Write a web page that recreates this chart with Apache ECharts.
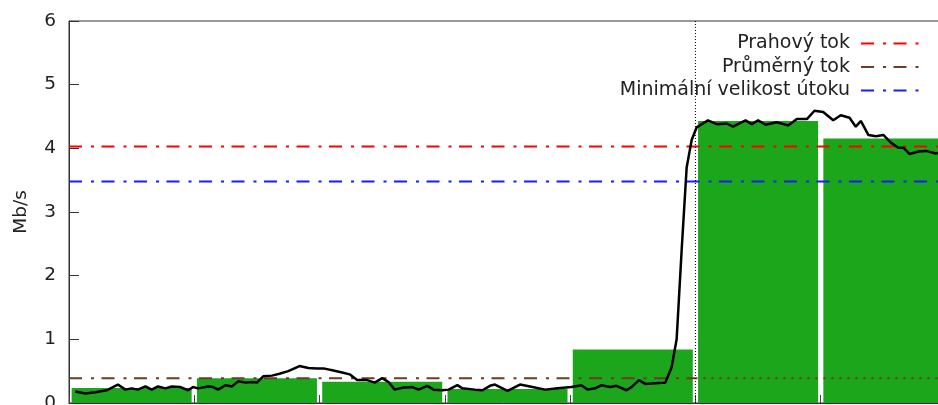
<!DOCTYPE html>
<html>
<head>
<meta charset="utf-8">
<script src="https://cdn.jsdelivr.net/npm/echarts@6/dist/echarts.min.js"></script>
<style>
  html, body { margin: 0; padding: 0; background: #ffffff; }
  #chart { width: 938px; height: 405px; }
</style>
</head>
<body>
<div id="chart"></div>
<script>
// 10-second bins of the measured traffic (Mb/s)
const binLabels = ['0–10', '10–20', '20–30', '30–40', '40–50', '50–60', '60–70'];
const binRate = [0.235, 0.39, 0.335, 0.22, 0.84, 4.43, 4.155];

// Sampled throughput: time (s) and rate (Mb/s)
const sampleTime = [
  0.5, 1.3, 2.1, 3.0, 3.9, 4.5, 5.0, 5.5, 6.1, 6.6, 7.1, 7.7, 8.2, 8.9, 9.5, 9.9,
  10.3, 11.1, 11.5, 11.9, 12.5, 13.0, 13.5, 14.1, 14.6, 15.0, 15.5, 16.2, 16.8, 17.5,
  18.4, 19.1, 19.8, 20.4, 21.1, 21.8, 22.4, 23.0, 23.8, 24.4, 25.0, 25.5, 26.0, 26.6,
  27.4, 27.9, 28.6, 29.1, 29.8, 30.3, 31.0, 31.4, 32.4, 33.0, 33.6, 34.0, 35.0, 36.0,
  37.0, 38.0, 39.0, 40.1, 40.9, 41.4, 42.0, 42.5, 43.2, 43.7, 44.5, 44.9, 45.5, 46.0,
  46.8, 47.6, 48.1, 48.5, 48.9, 49.3, 49.7, 50.1, 51.0, 51.7, 52.5, 53.0, 54.0, 54.5,
  55.0, 55.6, 56.5, 57.4, 58.1, 58.9, 59.5, 60.2, 61.0, 61.6, 62.3, 62.8, 63.2, 63.8,
  64.4, 65.0, 65.6, 66.2, 66.6, 67.1, 67.8, 68.4, 69.2, 69.8
];
const sampleRate = [
  0.18, 0.15, 0.17, 0.20, 0.29, 0.21, 0.23, 0.21, 0.26, 0.21, 0.26, 0.23, 0.26, 0.25, 0.20, 0.25,
  0.23, 0.26, 0.25, 0.21, 0.28, 0.26, 0.34, 0.32, 0.33, 0.32, 0.42, 0.43, 0.46, 0.50,
  0.58, 0.55, 0.54, 0.54, 0.51, 0.48, 0.45, 0.36, 0.36, 0.32, 0.39, 0.33, 0.21, 0.24,
  0.25, 0.21, 0.27, 0.21, 0.20, 0.21, 0.28, 0.23, 0.21, 0.20, 0.27, 0.29, 0.19, 0.29,
  0.25, 0.21, 0.23, 0.25, 0.28, 0.21, 0.23, 0.28, 0.25, 0.27, 0.20, 0.25, 0.36, 0.30,
  0.31, 0.32, 0.56, 1.00, 2.40, 3.70, 4.13, 4.33, 4.44, 4.38, 4.39, 4.34, 4.44, 4.38,
  4.44, 4.37, 4.41, 4.36, 4.46, 4.46, 4.59, 4.57, 4.44, 4.52, 4.48, 4.34, 4.43, 4.21,
  4.19, 4.21, 4.09, 4.01, 4.01, 3.91, 3.95, 3.96, 3.92, 3.94
];

// Reference levels (Mb/s) and the moment the attack starts (s)
const thresholdRate = 4.03;
const meanRate = 0.39;
const minAttackRate = 3.48;
const attackStart = 50;
const timeEnd = 70;

const yTicks = [0, 1, 2, 3, 4, 5, 6];

const FONT = 'DejaVu Sans';
const dashDot = [13, 9, 3, 7.5];

const chart = echarts.init(document.getElementById('chart'), null, { renderer: 'canvas' });

const flat = (v, x0, x1) => [[x0, v], [x1, v]];

chart.setOption({
  animation: false,
  backgroundColor: '#ffffff',
  textStyle: { fontFamily: FONT },
  grid: {
    left: 69, right: -8, top: 21, bottom: 2,
    outerBoundsMode: 'none',
    containLabel: false,
    show: true, borderColor: '#333333', borderWidth: 1
  },
  legend: {
    orient: 'vertical',
    right: 16,
    top: 33,
    padding: 0,
    align: 'right',
    itemWidth: 60,
    itemHeight: 14,
    itemGap: 2.5,
    selectedMode: false,
    data: ['Prahový tok', 'Průměrný tok', 'Minimální velikost útoku'],
    itemStyle: { opacity: 0 },
    textStyle: {
      fontFamily: FONT, fontSize: 19, color: '#222222',
      lineHeight: 21, padding: [0, 6, 0, 0]
    }
  },
  xAxis: [
    {
      type: 'value',
      min: 0, max: timeEnd, interval: 10,
      axisLine: { show: true, lineStyle: { color: '#333333', width: 1 } },
      axisTick: { show: true, inside: true, length: 8, lineStyle: { color: '#444444' } },
      axisLabel: { show: false },
      splitLine: { show: false }
    },
    {
      type: 'category',
      data: binLabels,
      boundaryGap: true,
      position: 'bottom',
      show: false
    }
  ],
  yAxis: {
    type: 'value',
    min: yTicks[0], max: yTicks[yTicks.length - 1], interval: 1,
    name: 'Mb/s',
    nameLocation: 'middle',
    nameRotate: 90,
    nameGap: 38,
    nameTextStyle: { fontFamily: FONT, fontSize: 18.5, color: '#222222' },
    axisLine: { show: true, lineStyle: { color: '#333333', width: 1 } },
    axisTick: { show: true, inside: true, length: 10, lineStyle: { color: '#333333' } },
    axisLabel: { fontFamily: FONT, fontSize: 18.5, color: '#222222', margin: 13 },
    splitLine: { show: false }
  },
  series: [
    {
      name: 'bins',
      type: 'bar',
      xAxisIndex: 1,
      data: binRate,
      barCategoryGap: '4.2%',
      itemStyle: { color: '#1ba61b' },
      silent: true,
      z: 1
    },
    {
      name: 'Prahový tok',
      type: 'line',
      data: flat(thresholdRate, 0, timeEnd),
      symbol: 'none',
      lineStyle: { color: '#ff0000', width: 2, type: dashDot, cap: 'butt' },
      silent: true,
      z: 3
    },
    {
      name: 'Průměrný tok',
      type: 'line',
      data: flat(meanRate, 0, attackStart),
      symbol: 'none',
      lineStyle: { color: '#6e3b24', width: 2, type: dashDot, cap: 'butt' },
      silent: true,
      z: 3
    },
    {
      name: 'Průměrný tok',
      type: 'line',
      data: flat(meanRate, attackStart, timeEnd),
      symbol: 'none',
      lineStyle: { color: '#6e3b24', width: 2, type: [2, 6], cap: 'butt' },
      silent: true,
      z: 3
    },
    {
      name: 'Minimální velikost útoku',
      type: 'line',
      data: flat(minAttackRate, 0, timeEnd),
      symbol: 'none',
      lineStyle: { color: '#1a1aff', width: 2, type: dashDot, cap: 'butt' },
      silent: true,
      z: 3
    },
    {
      name: 'attack',
      type: 'line',
      data: [[attackStart, yTicks[0]], [attackStart, yTicks[yTicks.length - 1]]],
      symbol: 'none',
      lineStyle: { color: '#000000', width: 1, type: [1, 2] },
      silent: true,
      z: 4
    },
    {
      name: 'rate',
      type: 'line',
      data: sampleTime.map((t, i) => [t, sampleRate[i]]),
      symbol: 'none',
      lineStyle: { color: '#000000', width: 2.5 },
      silent: true,
      z: 5
    }
  ]
});
</script>
</body>
</html>
